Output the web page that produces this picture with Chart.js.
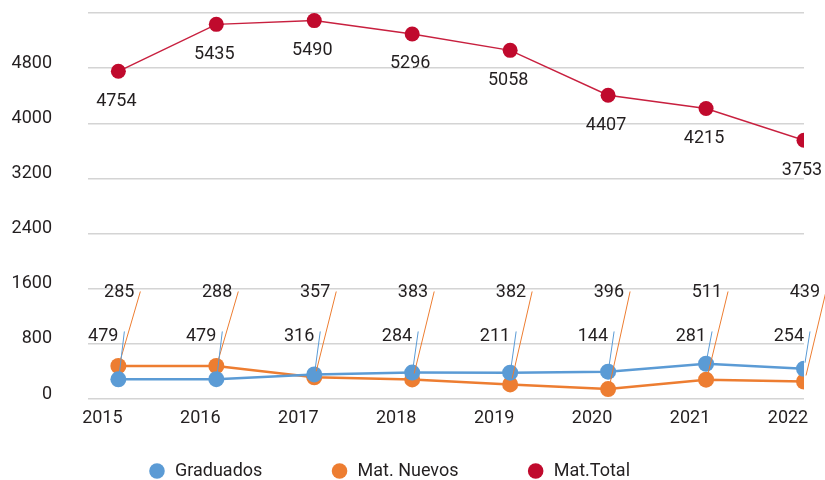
<!DOCTYPE html>
<html>
<head>
<meta charset="utf-8">
<script src="https://cdn.jsdelivr.net/npm/chart.js@4"></script>
<style>
  html, body { margin: 0; padding: 0; background: #fff; }
  #wrap { width: 825px; height: 480px; }
</style>
</head>
<body>
<div id="wrap"><canvas id="chart"></canvas></div>
<script>
// Data
const years = [2015, 2016, 2017, 2018, 2019, 2020, 2021, 2022];
const graduados = [285, 288, 357, 383, 382, 396, 511, 439];
const matNuevos = [479, 479, 316, 284, 211, 144, 281, 254];
const matTotal = [4754, 5435, 5490, 5296, 5058, 4407, 4215, 3753];
const yTicks = [0, 800, 1600, 2400, 3200, 4000, 4800, 5600];

const textColor = '#231f20';
const fontFamily = 'Roboto, "Noto Sans", sans-serif';

// Value labels: Mat.Total below its points, the two small series with leader lines
const labelPlugin = {
    id: 'valueLabels',
    afterDatasetsDraw(chart) {
        const ctx = chart.ctx;
        const y = chart.scales.y;
        const blue = chart.getDatasetMeta(0).data;
        const orange = chart.getDatasetMeta(1).data;
        const red = chart.getDatasetMeta(2).data;
        ctx.save();
        ctx.font = '18px ' + fontFamily;
        ctx.fillStyle = textColor;
        ctx.textBaseline = 'middle';

        ctx.textAlign = 'center';
        red.forEach((p, i) => {
            ctx.fillText(String(matTotal[i]), p.x - 2, p.y + 30);
        });

        const upperY = y.getPixelForValue(1560);
        const lowerY = y.getPixelForValue(980);
        ctx.lineWidth = 1;
        ctx.textAlign = 'right';
        years.forEach((yr, i) => {
            // upper label, orange leader
            const o = orange[i];
            const ox = o.x + 22;
            ctx.strokeStyle = '#ED7D31';
            ctx.beginPath();
            ctx.moveTo(o.x + 2, o.y - 6);
            ctx.lineTo(ox, upperY);
            ctx.stroke();
            ctx.fillText(String(graduados[i]), ox - 6, upperY + 1);

            // lower label, blue leader
            const b = blue[i];
            const bx = b.x + 6;
            ctx.strokeStyle = '#5B9BD5';
            ctx.beginPath();
            ctx.moveTo(b.x + 1, b.y - 6);
            ctx.lineTo(bx, lowerY);
            ctx.stroke();
            ctx.fillText(String(matNuevos[i]), bx - 6, lowerY + 5);
        });
        ctx.restore();
    }
};

const ctx = document.getElementById('chart').getContext('2d');
new Chart(ctx, {
    type: 'line',
    data: {
        datasets: [
            {
                label: 'Graduados',
                data: years.map((yr, i) => ({x: yr, y: graduados[i]})),
                borderColor: '#5B9BD5',
                backgroundColor: '#5B9BD5',
                borderWidth: 2.5,
                pointRadius: 8,
                pointBorderWidth: 0,
                pointHoverRadius: 8
            },
            {
                label: 'Mat. Nuevos',
                data: years.map((yr, i) => ({x: yr, y: matNuevos[i]})),
                borderColor: '#ED7D31',
                backgroundColor: '#ED7D31',
                borderWidth: 2.5,
                pointRadius: 8,
                pointBorderWidth: 0,
                pointHoverRadius: 8
            },
            {
                label: 'Mat.Total',
                data: years.map((yr, i) => ({x: yr, y: matTotal[i]})),
                borderColor: '#C8203F',
                backgroundColor: '#C00A2D',
                borderWidth: 1.5,
                pointRadius: 7.5,
                pointBorderWidth: 0,
                pointHoverRadius: 7.5
            }
        ]
    },
    options: {
        responsive: true,
        maintainAspectRatio: false,
        animation: false,
        layout: {
            padding: {top: 13, right: 21, bottom: -10, left: -26}
        },
        scales: {
            x: {
                type: 'linear',
                min: 2014.69,
                max: 2022,
                afterBuildTicks: scale => {
                    scale.ticks = years.map(v => ({value: v}));
                },
                afterFit: scale => {
                    scale.height = 35;
                },
                grid: {color: 'transparent', tickLength: 9},
                border: {display: false},
                ticks: {
                    padding: 0,
                    labelOffset: -16,
                    color: textColor,
                    font: {family: fontFamily, size: 18},
                    callback: v => String(v),
                    maxRotation: 0
                }
            },
            y: {
                min: 0,
                max: 5600,
                afterBuildTicks: scale => {
                    scale.ticks = yTicks.map(v => ({value: v}));
                },
                afterFit: scale => {
                    scale.width = 114;
                },
                grid: {
                    color: '#d4d4d4',
                    lineWidth: 1.5,
                    tickLength: 34,
                    tickColor: 'transparent'
                },
                border: {display: false},
                ticks: {
                    padding: 2,
                    labelOffset: -5,
                    color: textColor,
                    font: {family: fontFamily, size: 18},
                    callback: v => (v === 5600 ? '' : String(v))
                }
            }
        },
        plugins: {
            legend: {
                position: 'bottom',
                labels: {
                    usePointStyle: true,
                    pointStyle: 'circle',
                    boxWidth: 18,
                    boxHeight: 11,
                    padding: 28,
                    color: textColor,
                    font: {family: fontFamily, size: 18},
                    generateLabels: chart => {
                        const items = Chart.defaults.plugins.legend.labels.generateLabels(chart);
                        items.forEach((item, i) => {
                            if (i < items.length - 1) item.text += '\u00a0'.repeat(9);
                        });
                        return items;
                    }
                }
            },
            tooltip: {enabled: false}
        }
    },
    plugins: [labelPlugin]
});
</script>
</body>
</html>
